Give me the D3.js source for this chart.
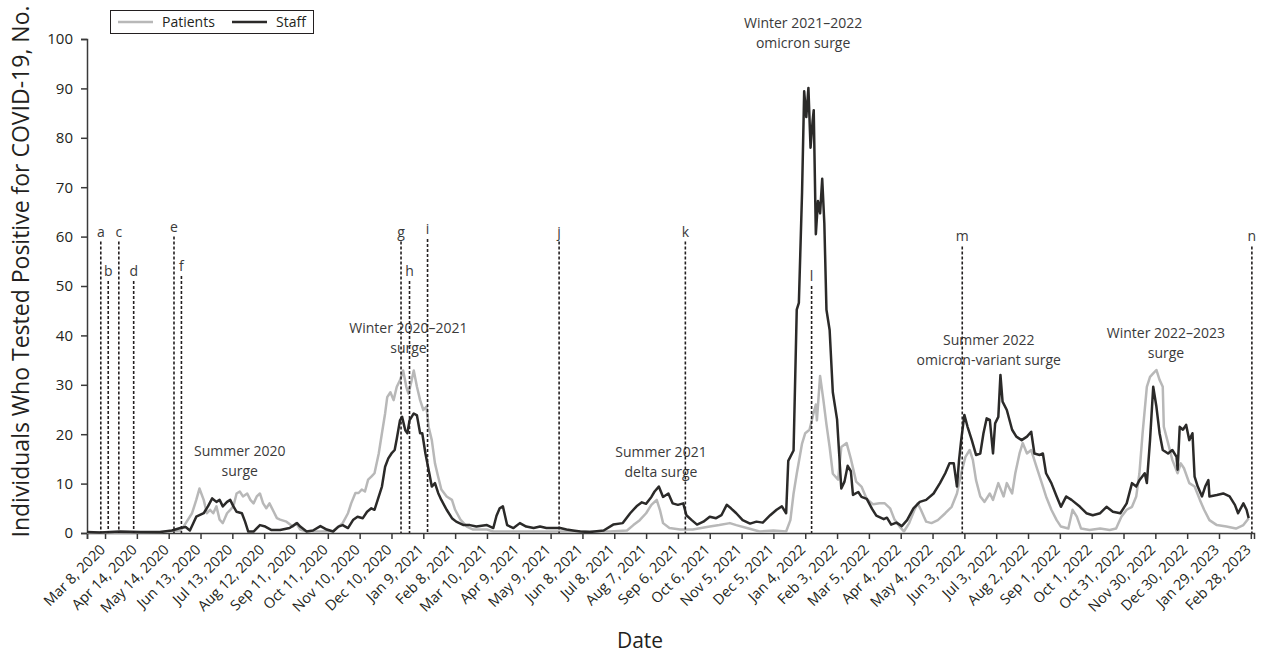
<!DOCTYPE html>
<html>
<head>
<meta charset="utf-8">
<script src="https://cdn.jsdelivr.net/npm/d3@7"></script>
<style>
  body { margin: 0; background: #fff; }
  svg { display: block; font-family: "Open Sans", sans-serif; }
</style>
</head>
<body>
<div id="chart"></div>
<script>
// day 0 of the x axis, every point is [days after startDate, count]
const startDate = new Date(2020, 1, 27);
const endDate = new Date(2023, 2, 3);

const seriesNames = ['Patients', 'Staff'];
const seriesColors = ['#b8b8b8', '#2b2a29'];

const patientPoints = [
  [0,0.1],[31,0.1],[69,0.2],[88,0.5],[91,1.3],[99,4.0],[103,6.7],[106,9.0],[110,6.7],[113,4.0],[116,4.7],[119,4.0],[122,5.4],[125,2.7],[128,2.0],[132,4.0],[135,4.7],[138,5.4],[141,8.0],[144,8.4],[147,7.4],[151,8.0],[154,6.7],[157,6.0],[160,7.4],[163,8.0],[166,6.0],[169,5.0],[172,6.0],[176,4.3],[179,3.0],[182,2.7],[188,2.3],[194,1.3],[197,2.0],[201,0.7],[207,0.3],[220,0.3],[232,0.4],[241,2.0],[246,4.0],[249,6.0],[253,8.1],[256,8.1],[259,8.8],[262,8.4],[265,10.8],[268,11.4],[271,12.1],[275,16.1],[278,20.2],[281,24.2],[283,27.5],[286,28.5],[289,26.9],[292,29.6],[295,30.9],[298,32.9],[301,29.6],[303,28.2],[306,30.9],[308,32.9],[311,29.6],[314,26.9],[317,24.9],[320,25.6],[322,21.5],[325,18.8],[328,14.1],[331,11.4],[334,8.8],[339,7.4],[344,6.7],[347,4.7],[352,2.7],[358,1.3],[364,0.7],[377,0.7],[383,0.3],[408,0.3],[446,0.3],[484,0.3],[493,0.3],[509,0.5],[515,1.6],[521,2.6],[527,4.0],[532,5.7],[537,6.7],[540,4.7],[543,2.0],[549,1.0],[559,0.7],[571,0.7],[587,1.3],[596,1.6],[606,2.0],[612,1.6],[622,1.0],[634,0.3],[647,0.5],[659,0.3],[663,2.6],[666,8.0],[669,12],[674,18.1],[677,20.2],[681,20.9],[685,24.4],[687,26.0],[688,22.8],[691,31.8],[694,27.1],[697,22],[700,17.4],[703,12],[708,10.8],[711,17.4],[716,18.2],[720,15],[725,10.4],[730,9.4],[735,6.9],[741,5.8],[747,6.0],[752,6.0],[757,5.0],[761,2.8],[766,1.3],[770,0.3],[775,2.0],[780,4.7],[783,6.0],[786,4.7],[791,2.3],[796,2.0],[802,2.6],[809,4.0],[815,5.3],[820,8.0],[824,12.1],[828,15.4],[832,16.8],[835,14.8],[838,10.7],[842,7.4],[846,6.3],[851,8.0],[854,6.7],[859,10.1],[864,7.4],[867,10.1],[872,8.0],[875,12.1],[879,16.1],[882,18.2],[886,16.1],[890,16.8],[895,13.4],[900,10.1],[904,7.4],[909,4.7],[914,2.6],[918,1.3],[925,0.9],[929,4.7],[933,3.3],[937,0.9],[945,0.6],[955,0.9],[964,0.6],[970,0.9],[975,3.3],[980,4.7],[985,5.3],[989,7.4],[992,12.1],[995,20.2],[999,29.6],[1002,31.6],[1005,32.3],[1008,33.0],[1011,31.0],[1014,29.6],[1015,21.5],[1019,18.2],[1023,14.8],[1028,12.1],[1031,14.1],[1034,13.1],[1039,10.1],[1044,9.4],[1049,6.7],[1053,4.7],[1058,2.6],[1065,1.6],[1074,1.3],[1083,0.9],[1090,1.6],[1095,3.0]
];

const staffPoints = [
  [0,0.2],[12,0.1],[31,0.3],[50,0.2],[69,0.2],[80,0.5],[88,1.0],[93,1.2],[97,0.5],[103,3.3],[110,4.0],[114,5.4],[118,7.0],[122,6.3],[125,6.7],[128,5.4],[132,6.3],[135,6.7],[138,5.4],[141,4.3],[146,4.0],[149,2.3],[152,0.3],[157,0.3],[163,1.6],[168,1.3],[174,0.6],[182,0.6],[191,1.0],[198,2.0],[201,1.3],[207,0.3],[213,0.5],[220,1.4],[226,0.7],[232,0.3],[237,1.3],[241,1.6],[246,1.0],[251,2.7],[255,3.3],[260,3.0],[264,4.3],[268,5.0],[271,4.7],[274,6.7],[278,9.4],[281,13.4],[284,15.1],[287,16.1],[290,16.8],[292,19.1],[295,22.8],[297,23.5],[300,20.8],[302,20.2],[304,22.8],[308,24.2],[311,23.8],[314,20.2],[316,20.2],[319,16.1],[322,12.8],[325,9.4],[328,10.1],[331,8.1],[334,6.7],[339,4.7],[344,3.0],[348,2.3],[355,1.6],[361,1.6],[367,1.3],[377,1.6],[383,1.0],[386,3.5],[389,5.0],[392,5.4],[396,1.6],[402,1.0],[408,2.0],[414,1.3],[421,1.0],[427,1.3],[433,1.0],[439,1.0],[446,1.0],[452,0.7],[458,0.5],[465,0.3],[474,0.2],[487,0.5],[496,1.7],[505,2.0],[512,4.0],[518,5.4],[523,6.2],[527,5.9],[532,7.3],[535,8.4],[539,9.4],[543,7.3],[548,8.0],[552,6.0],[557,5.7],[562,6.0],[565,3.6],[570,2.6],[575,1.7],[581,2.3],[587,3.3],[593,3.0],[598,3.6],[603,5.7],[607,5.0],[612,4.0],[618,2.6],[625,1.9],[631,2.3],[637,2.1],[644,3.6],[650,4.7],[655,5.4],[659,4.0],[661,14.6],[666,16.7],[669,45.2],[671,46.6],[674,68.9],[676,89.4],[678,84.2],[680,90.1],[682,78],[684,83.5],[685,85.6],[687,60.5],[689,67.2],[691,64.7],[693,71.7],[695,62.7],[697,45.2],[700,41.1],[703,28.5],[707,23],[709,16],[711,9],[714,10.4],[717,13.6],[720,12.5],[722,7.7],[727,8.3],[730,7.3],[735,6.9],[740,4.9],[744,3.5],[751,2.8],[754,3.1],[758,1.7],[763,2.1],[768,1.4],[773,2.6],[779,5.0],[785,6.3],[791,6.7],[798,8.0],[804,10.1],[809,12.1],[813,14.1],[817,14.1],[820,9.4],[822,14.8],[824,18.8],[827,23.9],[830,21.5],[834,18.8],[838,15.8],[842,16.1],[845,20.2],[848,23.2],[851,22.9],[854,16.1],[856,22.2],[859,23.5],[861,32.0],[863,26.6],[867,24.9],[872,20.9],[876,19.5],[881,18.8],[886,19.5],[890,20.5],[893,16.1],[898,15.8],[901,16.1],[904,12.1],[909,10.1],[914,7.4],[918,5.3],[923,7.4],[928,6.7],[936,5.3],[942,4.0],[948,3.6],[955,4.0],[961,5.3],[967,4.3],[974,4.0],[980,6.0],[985,10.1],[989,9.4],[992,10.7],[997,12.1],[999,10.1],[1002,18.8],[1005,29.6],[1008,25.6],[1011,20.2],[1014,16.8],[1019,16.1],[1023,16.8],[1027,15.4],[1028,12.8],[1030,21.5],[1033,20.9],[1036,21.9],[1039,18.8],[1042,20.2],[1044,11.4],[1047,9.4],[1051,7.4],[1054,9.4],[1057,10.7],[1058,7.4],[1065,7.7],[1071,8.0],[1077,7.4],[1082,5.7],[1085,4.0],[1090,6.0],[1093,4.7],[1095,3.0]
];

// x tick labels, one every 30 days (first one as printed on the original)
const tickLabels = ['Mar 8, 2020','Apr 14, 2020','May 14, 2020','Jun 13, 2020','Jul 13, 2020','Aug 12, 2020','Sep 11, 2020','Oct 11, 2020','Nov 10, 2020','Dec 10, 2020','Jan 9, 2021','Feb 8, 2021','Mar 10, 2021','Apr 9, 2021','May 9, 2021','Jun 8, 2021','Jul 8, 2021','Aug 7, 2021','Sep 6, 2021','Oct 6, 2021','Nov 5, 2021','Dec 5, 2021','Jan 4, 2022','Feb 3, 2022','Mar 5, 2022','Apr 4, 2022','May 4, 2022','Jun 3, 2022','Jul 3, 2022','Aug 2, 2022','Sep 1, 2022','Oct 1, 2022','Oct 31, 2022','Nov 30, 2022','Dec 30, 2022','Jan 29, 2023','Feb 28, 2023'];
const firstTick = new Date(2020, 2, 15);
const yTicks = [0, 10, 20, 30, 40, 50, 60, 70, 80, 90, 100];

// events (dashed lines): day offset and height in counts
const eventLabels = ['a','b','c','d','e','f','g','h','i','j','k','l','m','n'];
const eventDays = [13, 20, 30, 44, 82, 89, 296, 304, 321, 445, 564, 683, 825, 1098];
const eventTops = [59, 51, 59, 51, 60, 52, 59, 51, 59.5, 59, 59, 50, 58, 58];

// surge annotations: text lines, day offset of centre, level of first line
const surgeTexts = [
  ['Summer 2020', 'surge'],
  ['Winter 2020\u20132021', 'surge'],
  ['Summer 2021', 'delta surge'],
  ['Winter 2021\u20132022', 'omicron surge'],
  ['Summer 2022', 'omicron-variant surge'],
  ['Winter 2022\u20132023', 'surge']
];
const surgeDays = [144, 303, 541, 675, 850, 1017];
const surgeLevels = [15.6, 40.5, 15.4, 102.2, 38.1, 39.5];

const width = 1261;
const height = 660;
const ink = '#231f20';

const svg = d3.select('#chart').append('svg')
  .attr('width', width)
  .attr('height', height);

const x = d3.scaleTime().domain([startDate, endDate]).range([87, 1254]);
const y = d3.scaleLinear().domain([0, 100]).range([533, 39]);
const dayToDate = d => d3.timeDay.offset(startDate, d);

/* axes */
const tickDates = [startDate].concat(tickLabels.map((_l, i) => d3.timeDay.offset(firstTick, 30 * i)));
const xAxis = d3.axisBottom(x)
  .tickValues(tickDates)
  .tickSizeOuter(0)
  .tickSize(6)
  .tickFormat((_d, i) => i === 0 ? '' : tickLabels[i - 1]);

const gx = svg.append('g')
  .attr('transform', `translate(0,${y(0)})`)
  .call(xAxis);
gx.selectAll('text')
  .attr('x', 0).attr('y', 0).attr('dy', '0.35em')
  .attr('text-anchor', 'end')
  .attr('transform', 'translate(-3,14) rotate(-45)')
  .attr('font-size', 14.5)
  .attr('font-family', '"Open Sans", sans-serif')
  .attr('fill', ink);

const gy = svg.append('g')
  .attr('transform', `translate(${x(startDate)},0)`)
  .call(d3.axisLeft(y).tickValues(yTicks).tickSizeOuter(0).tickSize(6).tickPadding(8));
gy.selectAll('text')
  .attr('font-size', 15)
  .attr('font-family', '"Open Sans", sans-serif')
  .attr('fill', ink);

svg.selectAll('.domain, .tick line')
  .attr('stroke', '#3a3a3a')
  .attr('stroke-width', 1.5);

svg.append('text')
  .attr('transform', `translate(29,${(y(0) + 8) / 2 + 1}) rotate(-90)`)
  .attr('text-anchor', 'middle')
  .attr('font-size', 23)
  .attr('fill', ink)
  .text('Individuals Who Tested Positive for COVID-19, No.');

svg.append('text')
  .attr('x', 640)
  .attr('y', 648)
  .attr('text-anchor', 'middle')
  .attr('font-size', 21)
  .attr('fill', ink)
  .text('Date');

/* series */
const line = d3.line()
  .x(d => x(dayToDate(d[0])))
  .y(d => y(d[1]));

[patientPoints, staffPoints].forEach((pts, i) => {
  svg.append('path')
    .datum(pts)
    .attr('fill', 'none')
    .attr('stroke', seriesColors[i])
    .attr('stroke-width', 2.5)
    .attr('stroke-linejoin', 'round')
    .attr('d', line);
});

/* surge annotations */
const notes = svg.append('g')
  .attr('font-size', 14)
  .attr('fill', '#3a3a3a')
  .attr('text-anchor', 'middle');
surgeTexts.forEach((lines, i) => {
  const t = notes.append('text')
    .attr('x', x(dayToDate(surgeDays[i])))
    .attr('y', y(surgeLevels[i]));
  lines.forEach((s, j) => {
    t.append('tspan')
      .attr('x', x(dayToDate(surgeDays[i])))
      .attr('dy', j === 0 ? 0 : 20)
      .text(s);
  });
});

/* event lines */
const ev = svg.append('g');
eventLabels.forEach((lab, i) => {
  const ex = x(dayToDate(eventDays[i]));
  ev.append('line')
    .attr('x1', ex).attr('x2', ex)
    .attr('y1', y(eventTops[i])).attr('y2', y(0))
    .attr('stroke', ink)
    .attr('stroke-width', 1.6)
    .attr('stroke-dasharray', '3,2');
  ev.append('text')
    .attr('x', ex)
    .attr('y', y(eventTops[i]) - 5)
    .attr('text-anchor', 'middle')
    .attr('font-size', 14)
    .attr('fill', '#3a3a3a')
    .text(lab);
});

/* legend */
const legend = svg.append('g');
legend.append('rect')
  .attr('x', 110.5).attr('y', 10.5)
  .attr('width', 203).attr('height', 23)
  .attr('fill', '#fff')
  .attr('stroke', ink)
  .attr('stroke-width', 1);
const legendX = [118, 232];
seriesNames.forEach((name, i) => {
  legend.append('line')
    .attr('x1', legendX[i]).attr('x2', legendX[i] + 35)
    .attr('y1', 22).attr('y2', 22)
    .attr('stroke', seriesColors[i])
    .attr('stroke-width', 2.5);
  legend.append('text')
    .attr('x', legendX[i] + 44)
    .attr('y', 27)
    .attr('font-size', 14)
    .attr('fill', ink)
    .text(name);
});
</script>
</body>
</html>
